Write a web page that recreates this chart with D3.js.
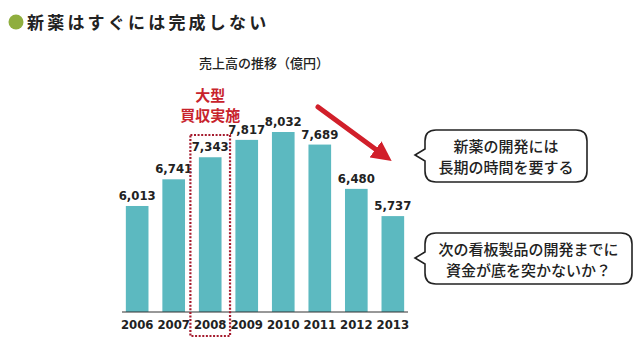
<!DOCTYPE html>
<html>
<head>
<meta charset="utf-8">
<script src="https://cdn.jsdelivr.net/npm/d3@7"></script>
<style>
  html, body { margin: 0; padding: 0; background: #fff; }
  svg { display: block; }
  .jp { font-family: "Noto Sans CJK JP", "Noto Sans", sans-serif; }
  .num { font-family: "DejaVu Sans Condensed", "DejaVu Sans", sans-serif; font-weight: bold; }
</style>
</head>
<body>
<svg id="chart" width="640" height="344"></svg>
<script>
// Sales (100 million yen) by fiscal year
const years = ["2006", "2007", "2008", "2009", "2010", "2011", "2012", "2013"];
const sales = [6013, 6741, 7343, 7817, 8032, 7689, 6480, 5737];
const highlightYear = "2008";
const highlightLabel = ["大型", "買収実施"];
const title = "新薬はすぐには完成しない";
const subtitle = "売上高の推移（億円）";
const callouts = [
  ["新薬の開発には", "長期の時間を要する"],
  ["次の看板製品の開発までに", "資金が底を突かないか？"]
];

const svg = d3.select("#chart");

// Title with green bullet
svg.append("circle").attr("cx", 16).attr("cy", 22).attr("r", 7.5).attr("fill", "#8fae3e");
svg.append("text").attr("class", "jp")
  .attr("x", 27).attr("y", 29)
  .attr("font-size", 17).attr("font-weight", 700)
  .attr("letter-spacing", 3.2)
  .attr("fill", "#222")
  .text(title);

svg.append("text").attr("class", "jp")
  .attr("x", 199).attr("y", 68)
  .attr("font-size", 13).attr("font-weight", 500)
  .attr("fill", "#222")
  .text(subtitle);

// Scales
const x = d3.scaleBand().domain(years).range([120, 410]).paddingInner(0.38).paddingOuter(0.16);
const y = d3.scaleLinear().domain([3120, 8032]).range([312, 132]);

// Bars
svg.append("g").selectAll("rect").data(years).join("rect")
  .attr("x", d => x(d))
  .attr("width", x.bandwidth())
  .attr("y", (d, i) => y(sales[i]))
  .attr("height", (d, i) => y.range()[0] - y(sales[i]))
  .attr("fill", "#5cb9c0");

// Value labels
const fmt = d3.format(",");
svg.append("g").selectAll("text").data(years).join("text")
  .attr("class", "num")
  .attr("x", d => x(d) + x.bandwidth() / 2)
  .attr("y", (d, i) => y(sales[i]) - 6)
  .attr("text-anchor", "middle")
  .attr("font-size", 13)
  .attr("fill", "#222")
  .text((d, i) => fmt(sales[i]));

// Baseline axis with year labels
const axis = svg.append("g").attr("transform", "translate(0,312)")
  .call(d3.axisBottom(x).tickSize(0).tickPadding(8));
axis.select(".domain").attr("d", "M122,0H408").attr("stroke", "#333").attr("stroke-width", 1.2);
axis.selectAll("text").attr("class", "num").attr("font-size", 13).attr("fill", "#222");

// Dotted frame around the acquisition year
const hx = x(highlightYear);
svg.append("rect")
  .attr("x", hx - 8.5).attr("y", 135)
  .attr("width", x.bandwidth() + 17).attr("height", 201)
  .attr("fill", "none")
  .attr("stroke", "#a51b2e").attr("stroke-width", 2.2)
  .attr("stroke-dasharray", "2,1.6");

// Two-line note above the frame
const note = svg.append("text").attr("class", "jp")
  .attr("x", hx + x.bandwidth() / 2).attr("y", 101)
  .attr("text-anchor", "middle")
  .attr("font-size", 15).attr("font-weight", 700)
  .attr("fill", "#c8232c");
note.selectAll("tspan").data(highlightLabel).join("tspan")
  .attr("x", hx + x.bandwidth() / 2)
  .attr("dy", (d, i) => i === 0 ? 0 : 20)
  .text(d => d);

// Downward trend arrow
const defs = svg.append("defs");
defs.append("marker").attr("id", "head")
  .attr("viewBox", "0 0 10 10").attr("refX", 4).attr("refY", 5)
  .attr("markerWidth", 4).attr("markerHeight", 4)
  .attr("orient", "auto")
  .append("path").attr("d", "M0,0L10,5L0,10Z").attr("fill", "#d11f2a");
svg.append("line")
  .attr("x1", 318).attr("y1", 107).attr("x2", 382).attr("y2", 154)
  .attr("stroke", "#d11f2a").attr("stroke-width", 5).attr("stroke-linecap", "round")
  .attr("marker-end", "url(#head)");

// Speech bubbles
function bubble(x0, y0, w, h, tipX, tipY) {
  const r = 11, midY = tipY;
  return `M${x0 + r},${y0}H${x0 + w - r}Q${x0 + w},${y0} ${x0 + w},${y0 + r}` +
    `V${y0 + h - r}Q${x0 + w},${y0 + h} ${x0 + w - r},${y0 + h}` +
    `H${x0 + r}Q${x0},${y0 + h} ${x0},${y0 + h - r}` +
    `V${midY + 6}L${tipX},${midY}L${x0},${midY - 6}` +
    `V${y0 + r}Q${x0},${y0} ${x0 + r},${y0}Z`;
}
const boxes = [
  { x: 425, y: 130, w: 162, h: 52, tx: 415, ty: 155 },
  { x: 425, y: 233, w: 207, h: 51, tx: 415, ty: 258 }
];
boxes.forEach((b, k) => {
  svg.append("path").attr("d", bubble(b.x, b.y, b.w, b.h, b.tx, b.ty))
    .attr("fill", "#fff").attr("stroke", "#222").attr("stroke-width", 1.6);
  const t = svg.append("text").attr("class", "jp")
    .attr("x", b.x + b.w / 2).attr("y", b.y + 22)
    .attr("text-anchor", "middle")
    .attr("font-size", 15).attr("font-weight", 500)
    .attr("fill", "#222");
  t.selectAll("tspan").data(callouts[k]).join("tspan")
    .attr("x", b.x + b.w / 2)
    .attr("dy", (d, i) => i === 0 ? 0 : 21)
    .text(d => d);
});
</script>
</body>
</html>
